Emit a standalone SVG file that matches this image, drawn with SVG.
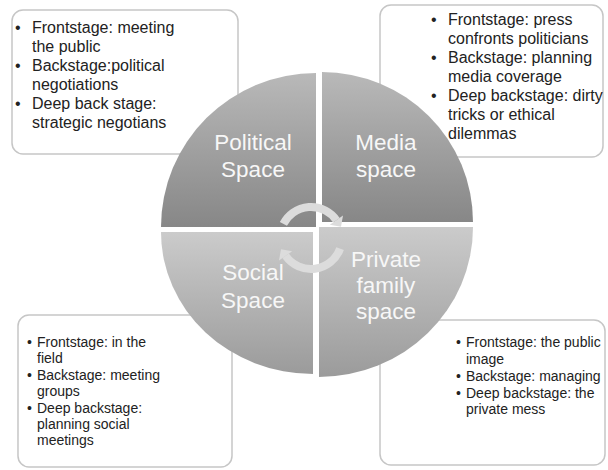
<svg xmlns="http://www.w3.org/2000/svg" width="608" height="470" viewBox="0 0 608 470">
<defs>
<linearGradient id="gTop" x1="0" y1="0" x2="0" y2="1">
<stop offset="0" stop-color="#b9b9b9"/>
<stop offset="1" stop-color="#878787"/>
</linearGradient>
<linearGradient id="gBot" x1="0" y1="0" x2="0" y2="1">
<stop offset="0" stop-color="#cbcbcb"/>
<stop offset="1" stop-color="#9b9b9b"/>
</linearGradient>
<style>
.box{fill:#ffffff;stroke:#c6c6c6;stroke-width:1.5}
.t16{font-family:"Liberation Sans",Arial,sans-serif;font-size:16px;fill:#222222}
.t14{font-family:"Liberation Sans",Arial,sans-serif;font-size:14px;fill:#222222}
.lab{font-family:"Liberation Sans",Arial,sans-serif;font-size:22.5px;fill:#f7f7f7;text-anchor:middle}
.arc{fill:none;stroke:#dcdcdc;stroke-width:8}
.head{fill:#dcdcdc}
</style>
</defs>

<g id="box-political">
<rect class="box" x="12" y="10" width="226" height="144" rx="11"/>
<text class="t16"><tspan x="15" y="33">•</tspan><tspan x="32" y="33">Frontstage: meeting</tspan><tspan x="32" y="52">the public</tspan><tspan x="15" y="71">•</tspan><tspan x="32" y="71">Backstage:political</tspan><tspan x="32" y="90">negotiations</tspan><tspan x="15" y="109">•</tspan><tspan x="32" y="109">Deep back stage:</tspan><tspan x="32" y="128">strategic negotians</tspan></text>
</g>

<g id="box-media">
<rect class="box" x="380" y="5" width="223" height="152" rx="11"/>
<text class="t16"><tspan x="431" y="25">•</tspan><tspan x="448" y="25">Frontstage: press</tspan><tspan x="448" y="44">confronts politicians</tspan><tspan x="431" y="63">•</tspan><tspan x="448" y="63">Backstage: planning</tspan><tspan x="448" y="82">media coverage</tspan><tspan x="431" y="101">•</tspan><tspan x="448" y="101">Deep backstage: dirty</tspan><tspan x="448" y="120">tricks or ethical</tspan><tspan x="448" y="139">dilemmas</tspan></text>
</g>

<g id="box-social">
<rect class="box" x="18" y="315" width="214" height="152" rx="11"/>
<text class="t14"><tspan x="27" y="347">•</tspan><tspan x="37" y="347">Frontstage: in the</tspan><tspan x="37" y="363.4">field</tspan><tspan x="27" y="379.8">•</tspan><tspan x="37" y="379.8">Backstage: meeting</tspan><tspan x="37" y="396.2">groups</tspan><tspan x="27" y="412.6">•</tspan><tspan x="37" y="412.6">Deep backstage:</tspan><tspan x="37" y="429">planning social</tspan><tspan x="37" y="445.4">meetings</tspan></text>
</g>

<g id="box-private">
<rect class="box" x="380" y="320" width="225" height="145" rx="11"/>
<text class="t14"><tspan x="456" y="347">•</tspan><tspan x="466" y="347">Frontstage: the public</tspan><tspan x="466" y="364">image</tspan><tspan x="456" y="381">•</tspan><tspan x="466" y="381">Backstage: managing</tspan><tspan x="456" y="397.5">•</tspan><tspan x="466" y="397.5">Deep backstage: the</tspan><tspan x="466" y="414">private mess</tspan></text>
</g>

<g id="political-space">
<path d="M316,227 L161,227 A155,154 0 0 1 316,73 Z" fill="url(#gTop)"/>
<text class="lab"><tspan x="253" y="150">Political</tspan><tspan x="253" y="177">Space</tspan></text>
</g>
<g id="media-space">
<path d="M322,222 L322,72 A151,150 0 0 1 473,222 Z" fill="url(#gTop)"/>
<text class="lab"><tspan x="386" y="150">Media</tspan><tspan x="386" y="177">space</tspan></text>
</g>
<g id="social-space">
<path d="M313,232 L161,232 A152,142 0 0 0 313,374 Z" fill="url(#gBot)"/>
<text class="lab"><tspan x="253" y="280">Social</tspan><tspan x="253" y="308">Space</tspan></text>
</g>
<g id="private-space">
<path d="M319,227 L473,227 A154,150 0 0 1 319,377 Z" fill="url(#gBot)"/>
<text class="lab"><tspan x="386" y="267">Private</tspan><tspan x="386" y="293">family</tspan><tspan x="386" y="319">space</tspan></text>
</g>

<g id="connectors">
<path class="arc" d="M283.4,223.9 A31,31 0 0 1 336.4,220.2"/>
<polygon class="head" points="343,215.6 329.8,224.8 341,226.8"/>
<path class="arc" d="M340.1,248.6 A31,31 0 0 1 285.6,255.8"/>
<polygon class="head" points="279,260.4 292.2,251.2 281,249.2"/>
</g>
</svg>
